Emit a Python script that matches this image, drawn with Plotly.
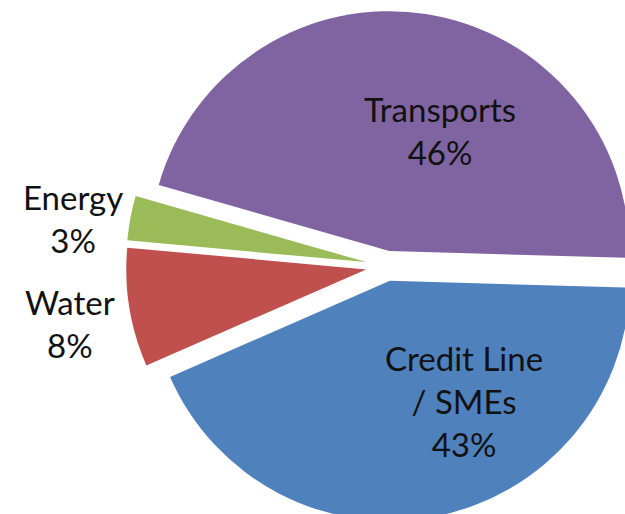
import plotly.graph_objects as go

# Data (clockwise order starting from Transports)
labels = ["Transports", "Credit Line<br>/ SMEs", "Water", "Energy"]
values = [46, 43, 8, 3]
colors = ["#8064A2", "#4F81BD", "#C0504D", "#9BBB59"]
pulls = [0.063, 0.063, 0.088, 0.088]

# The reference pie is cropped at the right and bottom edges of the window,
# so the figure is slightly larger than the 625x514 viewport.
W, H = 648, 532

fig = go.Figure(go.Pie(
    labels=labels,
    values=values,
    sort=False,
    direction="clockwise",
    rotation=-74,
    pull=pulls,
    marker=dict(colors=colors, line=dict(width=0)),
    textinfo="none",
    hoverinfo="label+percent",
    showlegend=False,
    domain=dict(x=[126 / W, 1.0], y=[0.0, 1.0]),
))

# label positions in pixels (layout only)
label_pos = {
    "Transports": (440, 131),
    "Credit Line<br>/ SMEs": (464, 401),
    "Water": (70, 323),
    "Energy": (73, 219),
}
total = sum(values)
for lab, val in zip(labels, values):
    px, py = label_pos[lab]
    fig.add_annotation(
        x=px / W, y=1 - py / H, xref="paper", yref="paper",
        text=f"{lab}<br>{round(100 * val / total)}%",
        showarrow=False, xanchor="center", yanchor="middle",
        font=dict(family="Lato", size=33, color="#111111"),
    )

fig.update_layout(
    width=W, height=H,
    margin=dict(l=0, r=0, t=0, b=0),
    paper_bgcolor="white",
    plot_bgcolor="white",
)

fig.write_html(
    "out.html",
    config={"displayModeBar": False},
    post_script="document.documentElement.style.overflow='hidden';"
                "document.body.style.overflow='hidden';"
                "document.body.style.margin='0';",
)
